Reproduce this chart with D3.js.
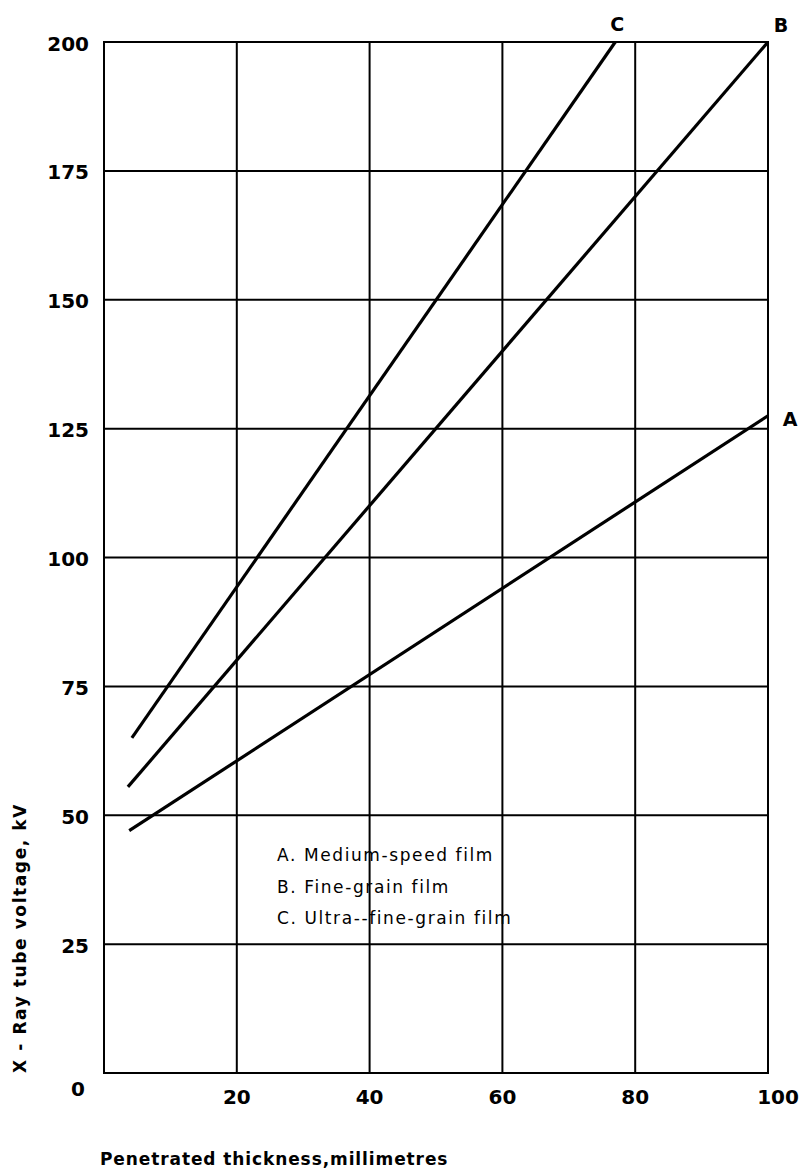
<!DOCTYPE html>
<html>
<head>
<meta charset="utf-8">
<script src="https://cdn.jsdelivr.net/npm/d3@7"></script>
<style>
  body { margin: 0; background: #fff; }
  text { font-family: "DejaVu Sans", sans-serif; fill: #000; }
</style>
</head>
<body>
<div id="chart"></div>
<script>
// tick values
const xTicks = [20, 40, 60, 80, 100];
const yTicks = [25, 50, 75, 100, 125, 150, 175, 200];

// straight lines (thickness mm, kV)
const lineA = [{ x: 3.8, y: 47 }, { x: 100, y: 127.5 }];
const lineB = [{ x: 3.6, y: 55.5 }, { x: 100, y: 200 }];
const lineC = [{ x: 4.2, y: 65 }, { x: 77, y: 200 }];
const seriesNames = ["A", "B", "C"];
const legendItems = ["A. Medium-speed film", "B. Fine-grain film", "C. Ultra--fine-grain film"];

const width = 799, height = 1174;
const margin = { top: 42, right: 31, bottom: 101, left: 104 };

const svg = d3.select("#chart").append("svg")
    .attr("width", width)
    .attr("height", height);

const x = d3.scaleLinear().domain([0, 100]).range([margin.left, width - margin.right]);
const y = d3.scaleLinear().domain([0, 200]).range([height - margin.bottom, margin.top]);

// grid
svg.append("g")
    .selectAll("line")
    .data([0].concat(xTicks))
    .enter().append("line")
    .attr("x1", d => x(d)).attr("x2", d => x(d))
    .attr("y1", y(0) + 1).attr("y2", y(200) - 1)
    .attr("stroke", "#000").attr("stroke-width", 2);

svg.append("g")
    .selectAll("line")
    .data([0].concat(yTicks))
    .enter().append("line")
    .attr("x1", x(0)).attr("x2", x(100))
    .attr("y1", d => y(d)).attr("y2", d => y(d))
    .attr("stroke", "#000").attr("stroke-width", 2);

// tick labels
svg.append("g")
    .selectAll("text")
    .data(yTicks)
    .enter().append("text")
    .attr("x", x(0) - 15)
    .attr("y", d => y(d) + 3)
    .attr("text-anchor", "end")
    .attr("dominant-baseline", "middle")
    .style("font-size", "20px")
    .style("font-weight", "bold")
    .text(d => d);

svg.append("g")
    .selectAll("text")
    .data(xTicks)
    .enter().append("text")
    .attr("x", d => x(d) + (d === 100 ? 10 : 0))
    .attr("y", y(0) + 25)
    .attr("text-anchor", "middle")
    .attr("dominant-baseline", "middle")
    .style("font-size", "20px")
    .style("font-weight", "bold")
    .text(d => d);

svg.append("text")
    .attr("x", x(0) - 26)
    .attr("y", y(0) + 17)
    .attr("text-anchor", "middle")
    .attr("dominant-baseline", "middle")
    .style("font-size", "20px")
    .style("font-weight", "bold")
    .text("0");

// lines
const line = d3.line().x(d => x(d.x)).y(d => y(d.y));
[lineA, lineB, lineC].forEach(data => {
    svg.append("path")
        .datum(data)
        .attr("fill", "none")
        .attr("stroke", "#000")
        .attr("stroke-width", 3.2)
        .attr("d", line);
});

// series letters
const labelPos = [
    { dx: 22, dy: 5, data: lineA },
    { dx: 13, dy: -16, data: lineB },
    { dx: 2, dy: -17, data: lineC }
];
labelPos.forEach((p, i) => {
    const end = p.data[p.data.length - 1];
    svg.append("text")
        .attr("x", x(end.x) + p.dx)
        .attr("y", y(end.y) + p.dy)
        .attr("text-anchor", "middle")
        .attr("dominant-baseline", "middle")
        .style("font-size", "19px")
        .style("font-weight", "bold")
        .text(seriesNames[i]);
});

// legend
svg.append("g")
    .selectAll("text")
    .data(legendItems)
    .enter().append("text")
    .attr("x", 277)
    .attr("y", (d, i) => 856 + i * 31.5)
    .attr("dominant-baseline", "middle")
    .style("font-size", "17px")
    .style("letter-spacing", "1.6px")
    .text(d => d);

// axis titles
svg.append("text")
    .attr("x", 100)
    .attr("y", 1160)
    .attr("dominant-baseline", "middle")
    .style("font-size", "17px")
    .style("font-weight", "bold")
    .style("letter-spacing", "0.9px")
    .text("Penetrated thickness,millimetres");

svg.append("text")
    .attr("transform", "translate(21," + 938 + ") rotate(-90)")
    .attr("text-anchor", "middle")
    .attr("dominant-baseline", "middle")
    .style("font-size", "17px")
    .style("font-weight", "bold")
    .style("letter-spacing", "1.6px")
    .text("X - Ray tube voltage, kV");
</script>
</body>
</html>
